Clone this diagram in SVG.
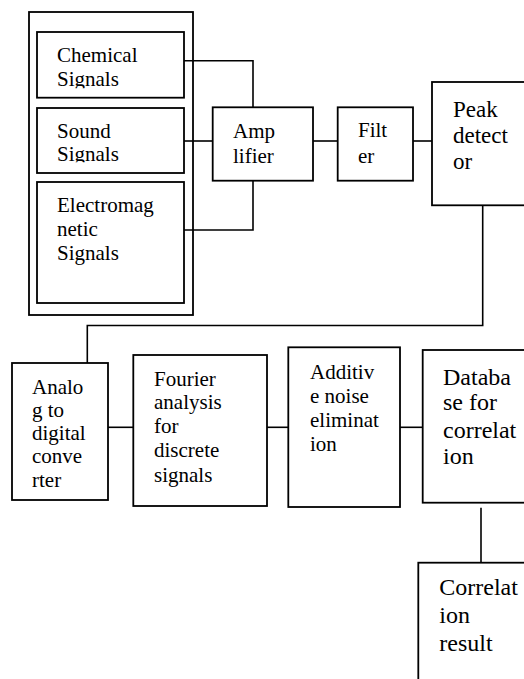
<svg xmlns="http://www.w3.org/2000/svg" width="524" height="679" viewBox="0 0 524 679">
  <style>
    .box { fill: #fff; stroke: #000; stroke-width: 1.8; }
    .conn { fill: none; stroke: #000; stroke-width: 1.6; }
    .lbl { font-family: 'Liberation Serif', 'Times New Roman', serif; fill: #000; }
    .t21 { font-size: 21px; }
    .t23 { font-size: 23px; }
    .t24 { font-size: 24px; }
  </style>
  <defs>
    <!-- text frames clip the last line of the two short signal boxes -->
    <clipPath id="clipChem"><rect x="37" y="32" width="147" height="56.3"/></clipPath>
    <clipPath id="clipSound"><rect x="37" y="108" width="147" height="54.3"/></clipPath>
  </defs>

  <rect width="524" height="679" fill="#fff"/>

  <!-- signal sources container -->
  <g id="sources">
    <rect class="box" x="29" y="12" width="164" height="303"/>
  </g>

  <g id="connectors">
    <!-- sources into amplifier -->
    <polyline class="conn" points="184,60.7 253,60.7 253,107"/>
    <line class="conn" x1="184" y1="141" x2="212.7" y2="141"/>
    <polyline class="conn" points="184,230 253,230 253,181"/>
    <!-- amplifier -> filter -> peak detector -->
    <line class="conn" x1="313" y1="141" x2="337.7" y2="141"/>
    <line class="conn" x1="413" y1="141" x2="432" y2="141"/>
    <!-- peak detector down to A/D converter -->
    <polyline class="conn" points="482.7,205 482.7,325.5 87.3,325.5 87.3,363"/>
    <!-- lower chain -->
    <line class="conn" x1="108" y1="427.3" x2="133.3" y2="427.3"/>
    <line class="conn" x1="267" y1="427.3" x2="288.3" y2="427.3"/>
    <line class="conn" x1="400" y1="427.3" x2="422.7" y2="427.3"/>
    <!-- database -> correlation result -->
    <line class="conn" x1="481" y1="507.7" x2="481" y2="562.7"/>
  </g>

  <g id="chemical">
    <rect class="box" x="37" y="32" width="147" height="65.7"/>
    <text class="lbl t21" x="57" y="61.7" clip-path="url(#clipChem)">Chemical<tspan x="57" y="85.7">Signals</tspan></text>
  </g>

  <g id="sound">
    <rect class="box" x="37" y="108" width="147" height="65"/>
    <text class="lbl t21" x="57" y="137.5" clip-path="url(#clipSound)">Sound<tspan x="57" y="161">Signals</tspan></text>
  </g>

  <g id="electromagnetic">
    <rect class="box" x="37" y="182" width="147" height="121"/>
    <text class="lbl t21" x="57" y="212.3">Electromag<tspan x="57" y="236">netic</tspan><tspan x="57" y="260">Signals</tspan></text>
  </g>

  <g id="amplifier">
    <rect class="box" x="212.7" y="107.3" width="100.3" height="73.4"/>
    <text class="lbl t21" x="233" y="138">Amp<tspan x="233" y="162.5">lifier</tspan></text>
  </g>

  <g id="filter">
    <rect class="box" x="337.7" y="107.3" width="75.3" height="73.4"/>
    <text class="lbl t21" x="358" y="137">Filt<tspan x="358" y="162.5">er</tspan></text>
  </g>

  <g id="peak-detector">
    <rect class="box" x="432" y="82" width="110" height="123.3"/>
    <text class="lbl t23" x="453" y="116.7">Peak<tspan x="453" y="143">detect</tspan><tspan x="453" y="169">or</tspan></text>
  </g>

  <g id="adc">
    <rect class="box" x="12" y="363" width="96" height="137"/>
    <text class="lbl t21" x="32" y="394">Analo<tspan x="32" y="417">g to</tspan><tspan x="32" y="440">digital</tspan><tspan x="32" y="463">conve</tspan><tspan x="32" y="486.5">rter</tspan></text>
  </g>

  <g id="fourier">
    <rect class="box" x="133.3" y="355" width="133.7" height="151"/>
    <text class="lbl t21" x="154" y="385.5">Fourier<tspan x="154" y="409">analysis</tspan><tspan x="154" y="433">for</tspan><tspan x="154" y="457.3">discrete</tspan><tspan x="154" y="482">signals</tspan></text>
  </g>

  <g id="noise-elimination">
    <rect class="box" x="288.3" y="347.3" width="111.7" height="159.7"/>
    <text class="lbl t21" x="310" y="379">Additiv<tspan x="310" y="403">e noise</tspan><tspan x="310" y="427">eliminat</tspan><tspan x="310" y="451">ion</tspan></text>
  </g>

  <g id="database">
    <rect class="box" x="422.7" y="350" width="120" height="152.7"/>
    <text class="lbl t24" x="443" y="385">Databa<tspan x="443" y="410">se for</tspan><tspan x="443" y="437.5">correlat</tspan><tspan x="443" y="464">ion</tspan></text>
  </g>

  <g id="correlation-result">
    <rect class="box" x="418.3" y="562.7" width="130" height="140"/>
    <text class="lbl t24" x="439.3" y="595">Correlat<tspan x="439.3" y="623">ion</tspan><tspan x="439.3" y="650.7">result</tspan></text>
  </g>
</svg>
